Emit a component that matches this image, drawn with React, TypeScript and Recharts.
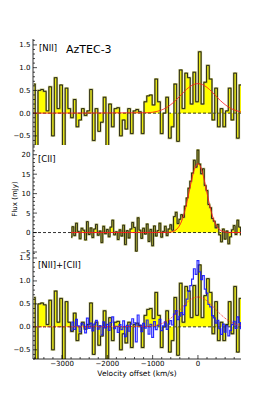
import React from 'react';
import { ComposedChart, Area, Line, XAxis, YAxis, ReferenceLine } from 'recharts';

const FONT = '"DejaVu Sans", "Liberation Sans", sans-serif';

// ---- axes ----
const X_DOMAIN: [number, number] = [-3640, 950];
const X_MINOR_STEP = 200;
const X_MAJOR_STEP = 1000;
const NII_Y_DOMAIN: [number, number] = [-0.7, 1.63];
const CII_Y_DOMAIN: [number, number] = [-5, 22.5];

// ---- [NII] spectrum (mJy), channel grid ----
const NII_V0 = -3620;
const NII_DV = 60;
const NII_FLUX = [
  0.64, -0.8, 0.5, 0.52, 0.48, 0.05, 0.58, -0.5, 0.78, 0.1,
  0.62, -0.75, 0.55, 0.1, -0.1, 0.3, -0.3, -0.15, 0.1, -0.05,
  0.05, 0.52, -0.6, 0.1, -0.4, -0.2, 0.35, -0.75, 0.2, -0.3,
  0.1, 0.12, -0.5, -0.15, -0.35, 0.1, -0.45, 0.05, 0.08, 0.03,
  -0.45, 0.25, 0.38, 0.4, 0.18, 0.75, 0.25, -0.45, 0.0, 0.35,
  -0.55, -0.3, 0.64, -0.62, 0.95, 0.1, 0.88, 0.78, 0.2, 0.9,
  0.25, 1.35, 0.2, 0.68, 1.05, 0.75, -0.15, 0.55, -0.3, 0.1,
  -0.3, 0.05, 0.55, -0.15, 0.88, -0.55, 0.62, 0.5,
];

// ---- [CII] spectrum (mJy), channel grid ----
const CII_V0 = -2800;
const CII_DV = 40;
const CII_FLUX = [
  -1.2, 1.5, -0.8, 2.4, 0.3, -1.6, 1.1, 0.6, -1.9, 2.8,
  -0.5, 1.2, -1.3, 0.9, 2.1, -0.7, 0.4, -2.6, 1.6, -0.3,
  0.8, -1.1, 1.4, 3.2, -0.6, 0.2, -1.8, 0.7, -0.9, 1.9,
  -3.1, 0.5, -1.4, 0.9, 2.6, 1.3, -4.8, 3.8, 0.6, -1.5,
  1.1, -0.4, 2.2, -2.3, 0.8, -3.4, 1.7, -0.9, 0.5, 2.4,
  -1.2, 0.3, 1.6, -0.8, 0.9, 2.0, 0.6, 4.1, 5.2, 2.3,
  3.4, 4.6, 3.9, 6.8, 8.9, 11.4, 13.2, 15.3, 18.6, 16.8,
  21.2, 17.6, 15.1, 16.4, 12.1, 10.8, 7.2, 6.4, 3.6, 2.9,
  1.2, 2.1, -0.6, -2.4, 0.9, -1.7, 0.4, -2.9, -1.1, 0.7,
  1.8, -0.5, 3.2, 1.4, -0.6,
];
// [CII] rescaled onto the [NII] flux axis (bottom panel)
const CII_TO_NII_SCALE = 0.068;

// ---- Gaussian fits ----
const NII_MODEL_VEL = [-3640, -1100, -1000, -900, -800, -700, -600, -500, -400, -300, -200, -100, 0, 100, 200, 300, 400, 500, 600, 700, 800, 900, 950];
const NII_MODEL_FLUX = [0, 0.01, 0.02, 0.039, 0.071, 0.119, 0.187, 0.273, 0.372, 0.477, 0.566, 0.628, 0.65, 0.628, 0.566, 0.477, 0.372, 0.273, 0.187, 0.119, 0.071, 0.039, 0.028];
const CII_MODEL_VEL = [-2800, -700, -600, -560, -520, -480, -440, -400, -360, -320, -280, -240, -200, -160, -120, -80, -40, 0, 40, 80, 120, 160, 200, 240, 280, 320, 360, 400, 440, 480, 520, 560, 600, 700, 950];
const CII_MODEL_FLUX = [0, 0.02, 0.12, 0.23, 0.42, 0.73, 1.21, 1.93, 2.94, 4.29, 5.97, 7.97, 10.17, 12.4, 14.5, 16.2, 17.3, 17.7, 17.3, 16.2, 14.5, 12.4, 10.17, 7.97, 5.97, 4.29, 2.94, 1.93, 1.21, 0.73, 0.42, 0.23, 0.12, 0.02, 0];

// ---- tables for the library ----
const niiData = NII_FLUX.map((f, i) => ({ v: NII_V0 + i * NII_DV, f }));
const ciiData = CII_FLUX.map((f, i) => ({ v: CII_V0 + i * CII_DV, f }));
const ciiScaledData = CII_FLUX.map((f, i) => ({ v: CII_V0 + i * CII_DV, f: f * CII_TO_NII_SCALE }));
const niiModel = NII_MODEL_VEL.map((v, i) => ({ v, f: NII_MODEL_FLUX[i] }));
const ciiModel = CII_MODEL_VEL.map((v, i) => ({ v, f: CII_MODEL_FLUX[i] }));

function tickRange(a: number, b: number, step: number): number[] {
  const out: number[] = [];
  for (let i = Math.ceil(a / step - 1e-9); i * step <= b + 1e-9; i++) {
    out.push(Math.round(i * step * 1000) / 1000);
  }
  return out;
}
const near = (v: number, step: number) => Math.abs(v / step - Math.round(v / step)) < 1e-6;

const X_TICKS = tickRange(X_DOMAIN[0], X_DOMAIN[1], X_MINOR_STEP);
const NII_Y_TICKS = tickRange(NII_Y_DOMAIN[0], NII_Y_DOMAIN[1], 0.1);
const CII_Y_TICKS = tickRange(CII_Y_DOMAIN[0], CII_Y_DOMAIN[1], 1);

const minus = (s: string) => s.replace('-', '\u2212');
const fmtNii = (v: number) => minus(v.toFixed(1));
const fmtInt = (v: number) => minus(String(Math.round(v)));

const TICK_TEXT: React.CSSProperties = { fontFamily: FONT, fontSize: 7, fill: '#000' };
const MAJ = 4;
const MIN = 2;
const TW = 0.7;

const leftTick = (isMajor: (v: number) => boolean, fmt: (v: number) => string) => (p: any) => {
  const v = p.payload.value;
  const M = isMajor(v);
  return (
    <g>
      <line x1={p.x} y1={p.y} x2={p.x + (M ? MAJ : MIN)} y2={p.y} stroke="#000" strokeWidth={TW} />
      {M ? (
        <text x={p.x - 2.5} y={p.y} dy="0.36em" textAnchor="end" style={TICK_TEXT}>{fmt(v)}</text>
      ) : null}
    </g>
  );
};
const rightTick = (isMajor: (v: number) => boolean) => (p: any) => {
  const M = isMajor(p.payload.value);
  return <line x1={p.x} y1={p.y} x2={p.x - (M ? MAJ : MIN)} y2={p.y} stroke="#000" strokeWidth={TW} />;
};
const topTick = (p: any) => {
  const M = near(p.payload.value, X_MAJOR_STEP);
  return <line x1={p.x} y1={p.y} x2={p.x} y2={p.y + (M ? MAJ : MIN)} stroke="#000" strokeWidth={TW} />;
};
const bottomTick = (labels: boolean) => (p: any) => {
  const v = p.payload.value;
  const M = near(v, X_MAJOR_STEP);
  return (
    <g>
      <line x1={p.x} y1={p.y} x2={p.x} y2={p.y - (M ? MAJ : MIN)} stroke="#000" strokeWidth={TW} />
      {labels && M ? (
        <text x={p.x} y={p.y + 7} textAnchor="middle" style={TICK_TEXT}>{fmtInt(v)}</text>
      ) : null}
    </g>
  );
};

const YELLOW = '#ffff00';
const OLIVE = '#a4a44a';

function axesFor(yDomain: [number, number], yTicks: number[], yMajorStep: number, fmt: (v: number) => string, xLabels: boolean) {
  const isMajor = (v: number) => near(v, yMajorStep);
  return [
    <XAxis key="xb" xAxisId="b" type="number" dataKey="v" domain={X_DOMAIN} allowDataOverflow ticks={X_TICKS} interval={0}
      height={xLabels ? 20 : 0} tickSize={0} tickMargin={0} tickLine={false} axisLine={{ stroke: '#000', strokeWidth: 0.8 }} tick={bottomTick(xLabels)} />,
    <XAxis key="xt" xAxisId="t" orientation="top" type="number" dataKey="v" domain={X_DOMAIN} allowDataOverflow ticks={X_TICKS} interval={0}
      height={0} tickSize={0} tickMargin={0} tickLine={false} axisLine={{ stroke: '#000', strokeWidth: 0.8 }} tick={topTick} />,
    <YAxis key="yl" yAxisId="l" type="number" domain={yDomain} allowDataOverflow ticks={yTicks} interval={0}
      width={33} tickSize={0} tickMargin={0} tickLine={false} axisLine={{ stroke: '#000', strokeWidth: 0.8 }} tick={leftTick(isMajor, fmt)} />,
    <YAxis key="yr" yAxisId="r" orientation="right" type="number" domain={yDomain} allowDataOverflow ticks={yTicks} interval={0}
      width={0} tickSize={0} tickMargin={0} tickLine={false} axisLine={{ stroke: '#000', strokeWidth: 0.8 }} tick={rightTick(isMajor)} />,
  ];
}

function histogram(data: { v: number; f: number }[], key: string) {
  return [
    <Area key={key + 'a'} xAxisId="b" yAxisId="l" data={data} dataKey="f" type="step" baseValue={0}
      fill={YELLOW} fillOpacity={1} stroke="none" isAnimationActive={false} dot={false} activeDot={false} />,
    <Line key={key + 'o'} xAxisId="b" yAxisId="l" data={data} dataKey="f" type="step"
      stroke={OLIVE} strokeOpacity={0.8} strokeWidth={1.9} isAnimationActive={false} dot={false} activeDot={false} />,
    <Line key={key + 'k'} xAxisId="b" yAxisId="l" data={data} dataKey="f" type="step"
      stroke="#000" strokeWidth={0.75} isAnimationActive={false} dot={false} activeDot={false} />,
  ];
}

const zeroLine = (
  <ReferenceLine xAxisId="b" yAxisId="l" y={0} stroke="#000" strokeWidth={0.8} strokeDasharray="3 2" />
);

export default function App() {
  const margin1 = { top: 39, right: 27, bottom: 10, left: 0 };
  const margin2 = { top: 10, right: 27, bottom: 10, left: 0 };
  const margin3 = { top: 10, right: 27, bottom: 21, left: 0 };
  return (
    <div style={{ position: 'absolute', left: 0, top: 0, width: 268, height: 400, background: '#fff', fontFamily: FONT }}>
      <div style={{ position: 'absolute', left: 0, top: 0 }}>
        <ComposedChart width={268} height={155} margin={margin1}>
          {axesFor(NII_Y_DOMAIN, NII_Y_TICKS, 0.5, fmtNii, false)}
          {zeroLine}
          {histogram(niiData, 'n1')}
          <Line xAxisId="b" yAxisId="l" data={niiModel} dataKey="f" type="monotone" stroke="#ff1a1a" strokeWidth={0.8}
            isAnimationActive={false} dot={false} activeDot={false} />
        </ComposedChart>
      </div>
      <div style={{ position: 'absolute', left: 0, top: 135 }}>
        <ComposedChart width={268} height={127} margin={margin2}>
          {axesFor(CII_Y_DOMAIN, CII_Y_TICKS, 5, fmtInt, false)}
          {zeroLine}
          {histogram(ciiData, 'c')}
          <Line xAxisId="b" yAxisId="l" data={ciiModel} dataKey="f" type="monotone" stroke="#ff1a1a" strokeWidth={0.9}
            isAnimationActive={false} dot={false} activeDot={false} />
        </ComposedChart>
      </div>
      <div style={{ position: 'absolute', left: 0, top: 242 }}>
        <ComposedChart width={268} height={158} margin={margin3}>
          {axesFor(NII_Y_DOMAIN, NII_Y_TICKS, 0.5, fmtNii, true)}
          {zeroLine}
          {histogram(niiData, 'n3')}
          <Line xAxisId="b" yAxisId="l" data={ciiScaledData} dataKey="f" type="step" stroke="#1414ff" strokeOpacity={0.9} strokeWidth={1.2}
            isAnimationActive={false} dot={false} activeDot={false} />
          <Line xAxisId="b" yAxisId="l" data={niiModel} dataKey="f" type="monotone" stroke="#ff1a1a" strokeWidth={0.9} strokeDasharray="1 1"
            isAnimationActive={false} dot={false} activeDot={false} />
        </ComposedChart>
      </div>
      <svg width={268} height={400} style={{ position: 'absolute', left: 0, top: 0, pointerEvents: 'none' }}>
        <text x={39} y={51} style={{ fontFamily: FONT, fontSize: 8.5, fill: '#000' }}>[NII]</text>
        <text x={66} y={52.5} style={{ fontFamily: FONT, fontSize: 11, fill: '#000' }}>AzTEC-3</text>
        <text x={38} y={162} style={{ fontFamily: FONT, fontSize: 8.5, fill: '#000' }}>[CII]</text>
        <text x={38} y={268} style={{ fontFamily: FONT, fontSize: 8.5, fill: '#000' }}>[NII]+[CII]</text>
        <text x={0} y={0} transform="translate(17,199) rotate(-90)" textAnchor="middle" style={{ fontFamily: FONT, fontSize: 7, fill: '#000' }}>Flux (mJy)</text>
        <text x={137} y={375.5} textAnchor="middle" style={{ fontFamily: FONT, fontSize: 7.5, fill: '#000' }}>Velocity offset (km/s)</text>
      </svg>
    </div>
  );
}
